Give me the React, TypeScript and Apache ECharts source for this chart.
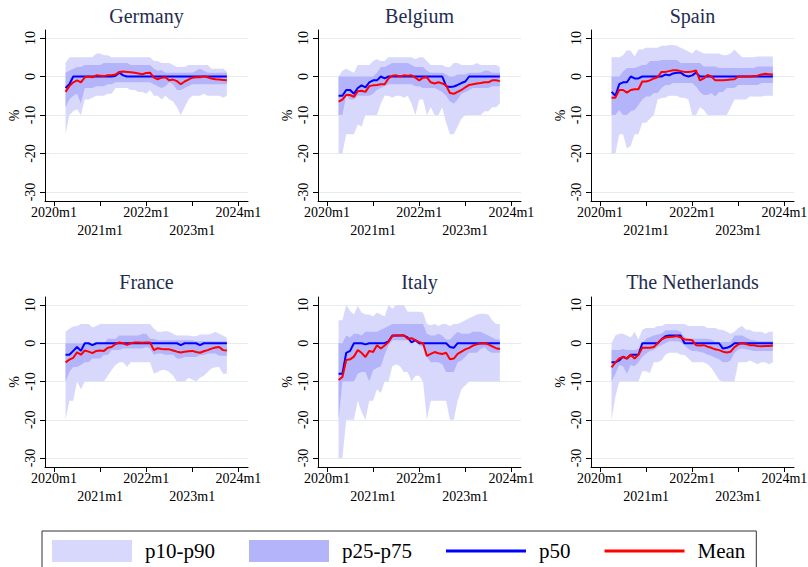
import React, { useEffect, useRef } from "react";
import * as echarts from "echarts";

// ---------- data ----------
const monthLabels = [
  "2020m4","2020m5","2020m6","2020m7","2020m8","2020m9","2020m10","2020m11","2020m12",
  "2021m1","2021m2","2021m3","2021m4","2021m5","2021m6","2021m7","2021m8","2021m9","2021m10","2021m11","2021m12",
  "2022m1","2022m2","2022m3","2022m4","2022m5","2022m6","2022m7","2022m8","2022m9","2022m10","2022m11","2022m12",
  "2023m1","2023m2","2023m3","2023m4","2023m5","2023m6","2023m7","2023m8","2023m9","2023m10",
];
const xTickValues = [0, 12, 24, 36, 48];
const xTickLabels = ["2020m1", "2021m1", "2022m1", "2023m1", "2024m1"];
const yTickValues = [-30, -20, -10, 0, 10];
const countries = ["Germany", "Belgium", "Spain", "France", "Italy", "The Netherlands"];
const legendNames = ["p10-p90", "p25-p75", "p50", "Mean"];

const germanyP10 = [-15,-10,-9,-8.5,-10,-6,-6,-5.5,-5,-5,-5,-4.5, -4.5,-3,-3,-3,-3,-3.5,-3.5,-4,-4,-4.5,-3.5,-5, -5,-6,-5,-6,-6.5,-8,-10,-8,-6,-5,-5,-5, -4.5,-5,-5,-5,-5,-5.5,-5];
const germanyP25 = [-8,-6,-5,-4.5,-7,-3,-3,-3,-2.5,-2.5,-2.5,-2, -2,-1.5,-1.5,-1.5,-1.5,-1.5,-1.5,-1.5,-1.5,-1.5,-1.5,-2, -2.5,-3,-2.5,-1.5,-2,-3.5,-3.5,-3,-2.5,-2,-2,-2, -2,-2,-2,-2,-2,-2,-2];
const germanyP50 = [-3,-2,0,0,0,0,0,0,0,0,0,0, 0,0.2,1,0.3,0,0,0,0,0,0,0,0, 0,0,0,0,0,0,0,0,0,0,0,0, 0,0,0,0,0,0,0];
const germanyP75 = [1,1.5,2,2.5,2.5,3,3,3,3,3,3.5,3.5, 3.5,3.5,3.5,3.5,3.5,3,3,3,3,3,3,2, 1.5,1.7,1,1,1,1,1,1,1,1,1.5,2, 1.5,1,1,1,1,1,1];
const germanyP90 = [3.5,5,5,5,5,5,5,5,6,6,5.5,5.5, 5,5,5,5,5,5,5,5,5,5,5,4, 4,3.5,3.5,3.5,3,2.5,2.5,2.5,3,3,3,3, 3,3,2,2,2,2,1.3];
const germanyMean = [-4,-2.5,-1.5,-1,-1.5,-0.2,0,-0.2,0.3,0.2,0.1,0.3, 0.3,0.5,1.2,1.3,1.2,1.1,1.0,0.8,0.6,0.9,1.0,-0.3, -0.7,-0.3,-0.2,-1.0,-0.8,-1.2,-2.0,-1.3,-0.8,-0.3,-0.2,-0.2, 0.1,-0.2,-0.5,-0.7,-0.8,-0.9,-1.0];

const belgiumP10 = [-20,-20,-15,-15,-15,-12.5,-13,-10,-10,-10,-10,-7, -5,-5,-5.5,-5,-5,-5.5,-5,-7,-10,-6,-6,-10, -8,-10,-10,-8,-12,-15,-15,-13,-11,-10,-10,-10, -10,-10,-9,-9,-8,-8,-7];
const belgiumP25 = [-10,-10,-5,-6,-6,-5,-5,-5,-5,-4.5,-3.5,-3, -2.5,-2,-2,-2,-2,-2,-2,-2,-2.5,-2.5,-3,-3, -3,-3,-3.5,-4,-5,-6.5,-7,-6,-4.5,-4,-3.5,-3, -3,-3,-3,-3,-2.5,-2.5,-2.5];
const belgiumP50 = [-5,-5,-3.5,-3.5,-4.5,-3,-2.3,-2.8,-1.5,-1,-1,0, -0.5,0,0,0,0,0,0,0,0,0,0,0, 0,0,0,0,-2.5,-2.7,-2.6,-2.2,-1.7,-1.3,0,0, 0,0,0,0,0,0,0];
const belgiumP75 = [0,0,0,0,0,0,0,0,0,0,1,2.5, 2.5,3,3.5,3.5,3.5,3.5,3.5,3,2.5,2.5,2.5,1.5, 1,1,1,1,0.5,0,0,0.5,0.5,0.5,1,1, 1,1,1.5,1.5,1,1,1];
const belgiumP90 = [0,1.5,2,1.5,1,3,3,3,3,4,4.5,4, 4,5,5,5,5,5,5,5,4.5,5,5,4, 3,3,3,3,2.5,2.5,3.5,3.5,3,3,3,3, 3.5,3,3,3,3,3,2.5];
const belgiumMean = [-6.5,-6,-4.8,-4.8,-5.3,-3.8,-3.7,-4,-2.5,-2.3,-2.2,-2, -2,-0.5,0.2,0.3,0,0.3,0.2,0.3,-0.3,-1,-0.3,-0.2, -1.5,-1.8,-1.5,-1.8,-2.3,-4.3,-4.5,-4,-3.5,-2.8,-2.2,-2, -1.8,-1.7,-1.5,-1.5,-1,-1,-1.2];

const spainP10 = [-20,-20,-15,-15,-18.7,-18,-15,-15,-12,-12,-11,-10, -6,-5.6,-5.5,-5,-5,-5,-5.5,-5.5,-6,-10,-10,-8, -8.7,-10,-10,-10,-10,-10,-10,-8,-6,-6,-6,-6, -5.2,-5.2,-5.2,-5.2,-5,-5,-5];
const spainP25 = [-10,-10,-8.7,-10,-10,-9,-8.7,-7.4,-6,-5.2,-5.2,-4.3, -4.3,-3,-2.2,-2.2,-1.7,-1.7,-1.7,-1.7,-1.7,-1.7,-2.6,-4, -4.8,-4.8,-4.3,-5.2,-4,-4,-3,-3,-3,-2.2,-2.2,-2.2, -2.2,-2.2,-2.2,-1.7,-1.7,-1.7,-1.7];
const spainP50 = [-4,-5,-2,-1.5,-1.5,0,-0.5,-0.5,0,0,0,0, 0,0,0.5,0.3,0.8,1,1,0.3,0,0.3,1,0, 0,0,0,0,0,0,0,0,0,0,0,0, 0,0,0,0,0,0,0];
const spainP75 = [0,0,0,1.3,2.2,2.2,2.2,2.6,3,3,4,4, 4,4.3,4.3,4.3,4.3,4.3,3.5,3.5,3.5,3.5,3.5,3.5, 2.6,2.6,2.6,2.6,2.2,2.2,2.2,2.2,2.2,2.2,2.2,2.2, 2.2,2.2,2.6,2.6,2.6,2.6,2.6];
const spainP90 = [5,5,5,5.5,6.8,6.7,5.2,7,7,7.5,7.5,7.5, 7.5,8,8,8.2,8.2,8,7.5,7,6.5,6,7,6.5, 6,6,6,6,6,5.5,5.5,6,7,6,5,5, 5,5,5.2,5.2,5.2,5.2,5.2];
const spainMean = [-5.5,-5.5,-3.5,-3.5,-4.2,-3.5,-3.3,-3.3,-1.3,-1.3,-1,-0.5, -0.2,1.2,1.2,1.4,1.6,1.6,1.4,1.2,1.2,1.3,1.6,-1, -0.5,0.4,0,-1,-1,-1,-0.9,-0.8,-0.7,0,0,0, 0,0.1,0.2,0.5,0.7,0.6,0.5];

const franceP10 = [-20,-15,-15,-10,-12,-10,-10,-10,-10,-10,-10,-8.5, -7,-5.7,-5,-5,-6.2,-5,-5,-5,-5,-5,-5,-8, -7.5,-7,-7,-7.5,-8.5,-10,-10,-10,-9,-9.5,-10,-9, -8.5,-7.5,-6.6,-6.3,-6.2,-8,-8];
const franceP25 = [-10,-7.5,-6.2,-6.2,-5.7,-5,-5,-4,-4,-4,-3.1,-3.1, -1.8,-1.8,-1.8,-1.4,-1.4,-1.4,-1.4,-1.4,-1.4,-1,-1.4,-3, -2.7,-2.7,-3,-3,-3,-4,-4,-3.6,-3.6,-3.6,-3.6,-3.1, -3.1,-2.7,-2.7,-2.7,-3.3,-3.3,-3.3];
const franceP50 = [-3,-3,-2,-1,-2,0,0,-0.5,0,0,0,0, 0,0,0,0,0,0,0,0,0,0,0,0, 0,0,0,0,0,0,-0.5,0,0,0,0,-0.5, 0,0,0,0,0,0,0];
const franceP75 = [0,0,0,0,0,0,0,0,0,0,0,1.2, 1.2,1.2,2,2,2,2,2,2,2.5,2.5,1.2,1.2, 0.8,0.8,0.8,0.8,0.8,0.8,0.8,0.8,0.8,0.8,0.5,0.5, 0.5,0.5,0.5,0.5,0.5,0.5,0.5];
const franceP90 = [3,3.8,4.4,4.5,5,5,5,4.1,4.5,5,5,5, 5,5,5,5,5,5,5,5,5,5,5,3.8, 3,3,3.2,3,2.5,2,2,2,2,1.8,1.8,2.3, 2.3,2.3,2.5,3,2.5,2,1.4];
const franceMean = [-5,-4.3,-3.8,-2.4,-3,-1.9,-2.2,-2.6,-2,-1.9,-2,-1.2, -1,-0.2,0.2,0,-0.4,0,0.2,0.2,0.1,0.2,0.2,-1.8, -1.3,-1.5,-1.6,-1.6,-1.9,-2.2,-2.4,-2.2,-2.1,-2,-2.3,-2.5, -2.1,-1.8,-1.4,-1.1,-1,-1.8,-1.9];

const italyP10 = [-30,-30,-20,-20,-20,-15,-18,-20,-15,-15,-12,-13, -10,-10,-6,-5.5,-6,-7.5,-7.5,-10,-8.5,-8.5,-10,-20, -15,-15,-15,-15,-15,-20,-20,-15,-12,-11,-10,-10, -10,-10,-10,-10,-10,-10,-10];
const italyP25 = [-20,-10,-10,-10,-10,-8,-7.5,-7.5,-10,-7,-6.5,-6, -3,-0.5,0.8,0.8,0.8,0.8,0.8,0.8,0.5,-0.5,-1,-3.5, -5,-5,-5,-5.5,-7.5,-7.5,-7.5,-5,-4.5,-3.5,-2.5,-2.5, -2.5,-1.5,-1,-2,-2.5,-2.5,-2.5];
const italyP50 = [-8,-8,-2.5,-2,0,0,0,-0.3,0,0,0,0, 0,0.5,2,2,2,2,1.5,0.2,0.8,0,0,0, 0,0,0,0,0,-1,-1.2,0,0,0,0,0, 0,0,0,0,0,0,0];
const italyP75 = [0,0,2,1.5,2.5,2.5,2,3,3,3,3,3.5, 4,4.5,5,5,5,5,5,5,5,5,5,2.5, 2,2,2.5,2,1,1,2,3,2.5,2.5,2.5,3, 3,3,2.5,2,1.5,1,1];
const italyP90 = [6,6,10,8.5,7.5,9.7,8,7.5,7.5,7,8,7.5, 7,10,9,10,10,10,8.2,8.2,8.2,8.2,8,5, 4.7,5,4.5,5,5,4.5,5,5,5.5,6,6.5,7, 7.5,7.7,7.7,7.5,6,5,5];
const italyMean = [-9.6,-8.8,-4.4,-4.2,-3.5,-1.8,-2.5,-3.6,-2,-2.3,-0.5,-1.4, -0.6,0.3,1.9,2,2,2.1,1.2,1.3,0.8,0.3,0,-3.3, -2.8,-2.3,-2.6,-2.8,-2.5,-4.2,-4,-2.8,-2.2,-1.6,-1.2,-0.6, -0.3,-0.1,0,-0.3,-0.8,-1.3,-1.5];

const nlP10 = [-20,-14,-10,-10,-10,-10,-10,-10,-7.3,-7.3,-7.8,-5, -5,-4.5,-3,-2.5,-2.5,-2.5,-3,-3,-4,-5,-5,-5, -5,-5.5,-6.5,-8,-9.6,-10,-10,-10,-10,-5,-5,-5, -4.5,-5,-5.5,-5,-5,-5.5,-5];
const nlP25 = [-10,-8,-5.7,-6,-8,-5.7,-6,-5,-3.5,-2.7,-2,-1.8, -1,-0.5,0,0.5,0.5,0.5,0.3,-0.5,-1.5,-2,-2,-2.3, -2.5,-3,-3.3,-3.8,-4.2,-5,-5,-4.5,-2.5,-1.6,-1.4,-1.6, -1.8,-2,-2,-2,-2,-2,-2];
const nlP50 = [-5,-5,-4.5,-3.5,-4,-3,-3,-3,0,0,0,0, 0,1,1.8,2,2,2,2,0,0,0,0,0, 0,0,0,0,0,-1.4,-1.2,-0.8,0,0,0,0, 0,0,0,0,0,0,0];
const nlP75 = [-1.8,-1.8,-1.8,-1.5,-1.8,-1.8,-1.8,-1.5,0,1.2,1.6,2, 2.3,2.5,3.4,3.4,3.4,3.4,3,1.6,1.2,1.2,1.2,1.2, 1.2,1.2,1,0.3,0.3,0.3,0.3,0.3,2,2,2,1.5, 1,0.8,0.5,0.5,0.5,0.5,0.5];
const nlP90 = [0,2,2.5,2.5,2,1.5,3,1,3.5,4,4,4, 4.5,4.5,5,5,5,5,5,5,4.5,4.5,4.5,4.5, 4.5,4,4,4,3.5,3.5,3,2.5,3,4,4.5,3.5, 3.5,3,3,3,2.5,3,3];
const nlMean = [-6.3,-5,-4,-3.6,-4,-3,-4,-3,-1.2,-1.2,-1.2,-1, 0,1,1.5,1.6,1.7,1.9,1.5,1,0.9,0.8,-0.5,-0.6, -0.5,-0.9,-1.2,-1.6,-1.8,-2.2,-2.4,-2.2,-1,-0.3,0,-0.2, -0.5,-0.5,-0.7,-0.8,-0.7,-0.7,-0.6];

const panelData = [
  { p10: germanyP10, p25: germanyP25, p50: germanyP50, p75: germanyP75, p90: germanyP90, mean: germanyMean },
  { p10: belgiumP10, p25: belgiumP25, p50: belgiumP50, p75: belgiumP75, p90: belgiumP90, mean: belgiumMean },
  { p10: spainP10, p25: spainP25, p50: spainP50, p75: spainP75, p90: spainP90, mean: spainMean },
  { p10: franceP10, p25: franceP25, p50: franceP50, p75: franceP75, p90: franceP90, mean: franceMean },
  { p10: italyP10, p25: italyP25, p50: italyP50, p75: italyP75, p90: italyP90, mean: italyMean },
  { p10: nlP10, p25: nlP25, p50: nlP50, p75: nlP75, p90: nlP90, mean: nlMean },
];

// month offset from 2020m1
const monthIdx = monthLabels.map((s) => {
  const [y, m] = s.split("m").map(Number);
  return (y - 2020) * 12 + (m - 1);
});
// upper row labels (2020, 2022, 2024) and lower row labels (2021, 2023)
const xUpperTicks = xTickValues.filter((_, k) => k % 2 === 0);
const xLowerTicks = xTickValues.filter((_, k) => k % 2 === 1);
const xLabelOf = (v: number) => xTickLabels[xTickValues.indexOf(v)] ?? "";

// ---------- style / layout ----------
const FONT = "Liberation Serif";
const OUTER = "#d8d8fc";
const INNER = "#b4b4fa";
const BLUE = "#0000ff";
const RED = "#ff0000";
const GRIDC = "#e4ecef";
const TITLEC = "#1f2d50";
const LINE_ICON = "path://M0,0H80V3H0Z";
const colLeft = [45, 318, 591];
const rowTop = [30, 297];
const rowH = [171, 170];
const gridW = 203;
const X_MIN = -2.35;
const X_MAX = 50.5;

function bandSeries(gi: number, lo: number[], hi: number[], color: string, name: string, z: number) {
  return {
    type: "custom",
    name,
    xAxisIndex: gi,
    yAxisIndex: gi,
    z,
    silent: true,
    itemStyle: { color },
    data: [[monthIdx[0], lo[0]]],
    encode: { x: 0, y: 1 },
    renderItem: (_params: any, api: any) => {
      const pts: number[][] = [];
      for (let i = 0; i < monthIdx.length; i++) pts.push(api.coord([monthIdx[i], hi[i]]));
      for (let i = monthIdx.length - 1; i >= 0; i--) pts.push(api.coord([monthIdx[i], lo[i]]));
      return { type: "polygon", shape: { points: pts }, style: { fill: color } };
    },
  };
}

const labelBase = {
  showMinLabel: true,
  showMaxLabel: true,
  hideOverlap: false,
  fontFamily: FONT,
  fontSize: 14,
  color: "#000",
  formatter: (v: number) => xLabelOf(v),
};

function buildOption() {
  const grid: any[] = [];
  const xAxis: any[] = [];
  const xAxis2: any[] = [];
  const yAxis: any[] = [];
  const title: any[] = [];
  const series: any[] = [];
  countries.forEach((c, i) => {
    const col = i % 3;
    const row = Math.floor(i / 3);
    grid.push({
      left: colLeft[col],
      top: rowTop[row],
      width: gridW,
      height: rowH[row],
      containLabel: false,
      outerBoundsMode: "none",
    });
    title.push({
      text: c,
      left: colLeft[col] + gridW / 2,
      top: row === 0 ? 6 : 272,
      textAlign: "center",
      padding: 0,
      textStyle: { fontFamily: FONT, fontSize: 20, fontWeight: "normal", color: TITLEC },
    });
    xAxis.push({
      gridIndex: i,
      type: "value",
      position: "bottom",
      min: X_MIN,
      max: X_MAX,
      axisLine: { show: true, onZero: false, lineStyle: { color: "#000", width: 1 } },
      axisTick: { show: true, length: 5, customValues: xTickValues, lineStyle: { color: "#000" } },
      axisLabel: { ...labelBase, customValues: xUpperTicks, margin: 4 },
      splitLine: { show: false },
    });
    xAxis2.push({
      gridIndex: i,
      type: "value",
      position: "bottom",
      min: X_MIN,
      max: X_MAX,
      axisLine: { show: false, onZero: false },
      axisTick: { show: false },
      axisLabel: { ...labelBase, customValues: xLowerTicks, margin: 22 },
      splitLine: { show: false },
    });
    yAxis.push({
      gridIndex: i,
      type: "value",
      min: -32.34,
      max: 12.08,
      name: "%",
      nameLocation: "middle",
      nameGap: 24,
      nameTextStyle: { fontFamily: FONT, fontSize: 14, color: "#000" },
      axisLine: { show: true, onZero: false, lineStyle: { color: "#000", width: 1 } },
      axisTick: { show: true, length: 5, customValues: yTickValues, lineStyle: { color: "#000" } },
      axisLabel: {
        customValues: yTickValues,
        showMinLabel: true,
        showMaxLabel: true,
        rotate: 90,
        fontFamily: FONT,
        fontSize: 14,
        color: "#000",
        margin: 8,
      },
      splitLine: { show: false },
    });
    const d = panelData[i];
    series.push(bandSeries(i, d.p10, d.p90, OUTER, legendNames[0], 2));
    series.push(bandSeries(i, d.p25, d.p75, INNER, legendNames[1], 3));
    series.push({
      type: "line",
      name: legendNames[2],
      xAxisIndex: i,
      yAxisIndex: i,
      z: 4,
      symbol: "none",
      showSymbol: false,
      silent: true,
      color: BLUE,
      itemStyle: { color: BLUE },
      lineStyle: { color: BLUE, width: 2 },
      data: monthIdx.map((m, k) => [m, d.p50[k]]),
      markLine: {
        silent: true,
        z: 0,
        symbol: "none",
        label: { show: false },
        animation: false,
        lineStyle: { color: GRIDC, width: 1, type: "solid" },
        emphasis: { disabled: true },
        data: yTickValues.map((v) => ({ yAxis: v })),
      },
    });
    series.push({
      type: "line",
      name: legendNames[3],
      xAxisIndex: i,
      yAxisIndex: i,
      z: 5,
      symbol: "none",
      showSymbol: false,
      silent: true,
      color: RED,
      itemStyle: { color: RED },
      lineStyle: { color: RED, width: 2 },
      data: monthIdx.map((m, k) => [m, d.mean[k]]),
    });
  });

  return {
    animation: false,
    backgroundColor: "#fff",
    textStyle: { fontFamily: FONT },
    title,
    grid,
    xAxis: [...xAxis, ...xAxis2],
    yAxis,
    series,
    legend: {
      left: 42,
      top: 531,
      orient: "horizontal",
      padding: [9, 11, 10, 10],
      itemWidth: 80,
      itemHeight: 22,
      itemGap: 34,
      borderColor: "#333",
      borderWidth: 1,
      selectedMode: false,
      textStyle: { fontFamily: FONT, fontSize: 21, color: "#000", padding: [0, 0, 0, 8] },
      data: [
        { name: legendNames[0], icon: "rect" },
        { name: legendNames[1], icon: "rect" },
        { name: legendNames[2], icon: LINE_ICON, itemStyle: { color: BLUE } },
        { name: legendNames[3], icon: LINE_ICON, itemStyle: { color: RED } },
      ],
    },
  };
}

export default function App() {
  const ref = useRef<HTMLDivElement>(null);
  useEffect(() => {
    if (!ref.current) return;
    const chart = echarts.init(ref.current, undefined, { renderer: "svg" });
    chart.setOption(buildOption() as any);
    return () => chart.dispose();
  }, []);
  return (
    <div
      ref={ref}
      style={{ position: "fixed", left: 0, top: 0, width: 808, height: 567, background: "#fff" }}
    />
  );
}
